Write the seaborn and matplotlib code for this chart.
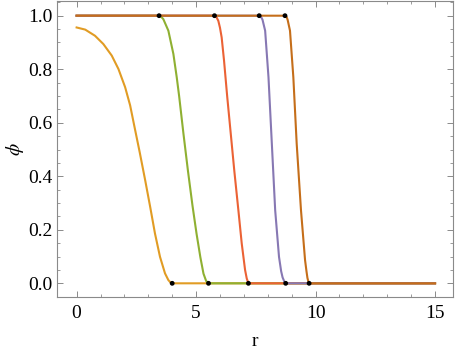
import numpy as np
import pandas as pd
import matplotlib
matplotlib.use("Agg")
import matplotlib.pyplot as plt
from matplotlib.ticker import MultipleLocator
import seaborn as sns

# ---------------- DATA ----------------
r_orange = [0, 0.36, 0.77, 1.12, 1.47, 1.75, 2.03, 2.24, 2.41, 2.64, 2.87, 3.08,
            3.28, 3.49, 3.70, 3.84, 3.93, 4.0, 15]
phi_orange = [0.956, 0.948, 0.925, 0.894, 0.851, 0.801, 0.733, 0.665, 0.59, 0.49,
              0.385, 0.285, 0.186, 0.099, 0.037, 0.012, 0.003, 0.0, 0.0]

r_green = [0, 3.45, 3.53, 3.63, 3.84, 4.05, 4.19, 4.29, 4.47, 4.66, 4.85, 5.02,
           5.18, 5.31, 5.42, 5.52, 15]
phi_green = [1.0, 1.0, 0.997, 0.987, 0.944, 0.857, 0.77, 0.70, 0.56, 0.42,
             0.29, 0.185, 0.097, 0.036, 0.009, 0.0, 0.0]

r_red = [0, 5.77, 5.85, 5.93, 6.0, 6.07, 6.17, 6.30, 6.45, 6.60, 6.77, 6.91,
         7.05, 7.12, 7.19, 15]
phi_red = [1.0, 1.0, 0.995, 0.981, 0.955, 0.919, 0.832, 0.70, 0.56, 0.42,
           0.273, 0.149, 0.05, 0.018, 0.0, 0.0]

r_purple = [0, 7.64, 7.71, 7.78, 7.89, 8.03, 8.17, 8.31, 8.47, 8.56, 8.62, 8.70, 8.75, 15]
phi_purple = [1.0, 1.0, 0.997, 0.985, 0.944, 0.77, 0.522, 0.273, 0.099, 0.045,
              0.022, 0.005, 0.0, 0.0]

r_brown = [0, 8.72, 8.78, 8.83, 8.93, 9.07, 9.21, 9.39, 9.56, 9.62, 9.66, 9.70, 9.73, 15]
phi_brown = [1.0, 1.0, 0.997, 0.985, 0.944, 0.77, 0.522, 0.273, 0.087, 0.045,
             0.02, 0.006, 0.0, 0.0]

# black marker points at the ends of the transitions
dot_r = [3.45, 5.77, 7.64, 8.72, 4.0, 5.52, 7.19, 8.75, 9.73]
dot_phi = [1, 1, 1, 1, 0, 0, 0, 0, 0]

curve_names = ["c1", "c2", "c3", "c4", "c5"]
colors = ["#E19C24", "#8FB032", "#EB6235", "#8778B3", "#C56E1A"]

# ---------------- BUILD LONG TABLE ----------------
curves = [(r_orange, phi_orange), (r_green, phi_green), (r_red, phi_red),
          (r_purple, phi_purple), (r_brown, phi_brown)]
frames = []
for name, (rr, pp) in zip(curve_names, curves):
    frames.append(pd.DataFrame({"r": rr, "phi": pp, "curve": name}))
df = pd.concat(frames, ignore_index=True)
dots = pd.DataFrame({"r": dot_r, "phi": dot_phi})

# ---------------- PLOT ----------------
plt.rcParams["font.family"] = ["Liberation Serif", "DejaVu Serif"]
plt.rcParams["mathtext.fontset"] = "stix"

fig = plt.figure(figsize=(4.55, 3.53), dpi=100)
ax = fig.add_axes([0.1253, 0.158, 0.8697, 0.840])

sns.lineplot(data=df, x="r", y="phi", hue="curve", palette=colors,
             sort=False, estimator=None, linewidth=1.5, legend=False, ax=ax)
sns.scatterplot(data=dots, x="r", y="phi", color="black", s=12,
                edgecolor="none", zorder=5, ax=ax)

ax.set_xlim(-0.82, 15.74)
ax.set_ylim(-0.052, 1.056)
ax.xaxis.set_minor_locator(MultipleLocator(1))
ax.yaxis.set_minor_locator(MultipleLocator(0.05))
ax.set_xticks([0, 5, 10, 15])
ax.set_xticklabels(["0", "5", "10", "15"])
ax.set_yticks([0, 0.2, 0.4, 0.6, 0.8, 1.0])
ax.set_yticklabels(["0.0", "0.2", "0.4", "0.6", "0.8", "1.0"])

frame_col = "#8a8a8a"
for sp in ax.spines.values():
    sp.set_color(frame_col)
    sp.set_linewidth(0.8)
ax.tick_params(which="both", direction="in", top=True, right=True,
               color=frame_col, labelsize=14, labelcolor="black")
ax.tick_params(axis="x", which="major", length=4, width=0.7, pad=5.5)
ax.tick_params(axis="y", which="major", length=4, width=0.7, pad=3.5)
ax.tick_params(which="minor", length=2, width=0.6)

ax.set_xlabel("r", fontsize=14, labelpad=8)
ax.set_ylabel(r"$\phi$", fontsize=14, labelpad=1.5)

fig.savefig("out.png", dpi=100)
